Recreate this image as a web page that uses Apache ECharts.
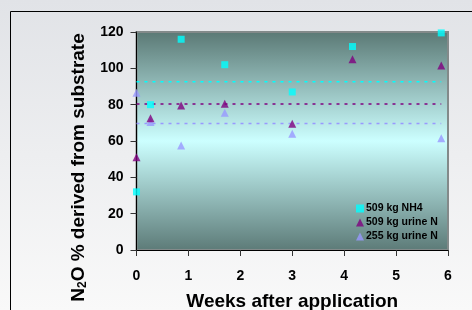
<!DOCTYPE html>
<html><head><meta charset="utf-8">
<script src="https://cdn.jsdelivr.net/npm/echarts@6/dist/echarts.min.js"></script>
<style>html,body{margin:0;padding:0;}#c{width:472px;height:310px;}</style>
</head><body><div id="c"></div>
<script>
// Data
var weeksNH4 = [0, 0.27, 0.86, 1.70, 3.00, 4.16, 5.87];
var nh4_509 = [32, 80, 116, 102, 87, 112, 119.5];
var weeksUrine509 = [0, 0.27, 0.86, 1.70, 3.00, 4.16, 5.87];
var urine_509 = [51, 72.5, 79.5, 80.5, 69.5, 105, 101.5];
var weeksUrine255 = [0, 0.27, 0.86, 1.70, 3.00, 5.87];
var urine_255 = [86.5, 70.5, 57.5, 75.5, 64, 61.5];
var meanSpan = [0, 5.87];
var meanNH4 = 92.6, meanU509 = 80.3, meanU255 = 69.6;
var seriesNames = ['509 kg NH4', '509 kg urine N', '255 kg urine N'];
var colors = ['#00ffff', '#800080', '#9999ff'];

function pairs(xs, ys){ return xs.map(function(x,i){ return [x, ys[i]]; }); }
function meanLine(v){ return meanSpan.map(function(x){ return [x, v]; }); }

var chart = echarts.init(document.getElementById('c'));
var font = 'Liberation Sans, Arial, sans-serif';
chart.setOption({
  animation: false,
  backgroundColor: new echarts.graphic.LinearGradient(0,0,0,1,[{offset:0,color:'#e1e3e7'},{offset:1,color:'#f9f9f9'}]),
  graphic: [
    {type:'rect', shape:{x:10.5, y:11.5, width:480, height:320}, style:{fill:null, stroke:'#000', lineWidth:1}, z:-1},
    {type:'text', x:79, y:167.5, rotation: Math.PI/2,
      style:{
        text:'{b|N}{s|2}{b|O % derived from substrate}',
        align:'center', verticalAlign:'middle',
        rich:{
          b:{fontSize:19, fontWeight:'bold', fontFamily:font, fill:'#000'},
          s:{fontSize:12, fontWeight:'bold', fontFamily:font, fill:'#000', padding:[8,0,0,0]}
        }
      }}
  ],
  grid: {left:136.5, right:24, top:32, bottom:60, show:true, containLabel:false, outerBoundsMode:'none',
    backgroundColor: new echarts.graphic.LinearGradient(0,0,0,1,[
      {offset:0,color:'#5a7874'},{offset:0.5,color:'#ccffff'},{offset:1,color:'#5c7a77'}]),
    borderColor:'#838a8a', borderWidth:2},
  legend: {
    orient:'vertical', left:356, top:203, padding:0, itemGap:3, itemWidth:8, itemHeight:8,
    data:[{name:seriesNames[0], icon:'rect'},{name:seriesNames[1], icon:'triangle'},{name:seriesNames[2], icon:'triangle'}],
    textStyle:{fontSize:10.5, fontWeight:'bold', fontFamily:font, color:'#000', padding:[0,0,0,-3]}
  },
  xAxis: {type:'value', min:0, max:6, interval:1,
    name:'Weeks after application', nameLocation:'middle', nameGap:42,
    nameTextStyle:{fontSize:19, fontWeight:'bold', fontFamily:font, color:'#000'},
    axisLine:{onZero:false, lineStyle:{color:'#000', width:1}},
    axisTick:{show:true, length:6, lineStyle:{color:'#333'}},
    axisLabel:{margin:19.5, fontSize:14, fontWeight:'bold', fontFamily:font, color:'#000'},
    splitLine:{show:false}},
  yAxis: {type:'value', min:0, max:120, interval:20,
    axisLine:{show:true, lineStyle:{color:'#000', width:1}},
    axisTick:{show:true, length:6, lineStyle:{color:'#333'}},
    axisLabel:{margin:13, fontSize:14, fontWeight:'bold', fontFamily:font, color:'#000'},
    splitLine:{show:false}},
  series: [
    {name:'mean1', type:'line', data:meanLine(meanNH4), showSymbol:false, silent:true,
      lineStyle:{color:colors[0], width:1.5, type:[3,5]}, z:1},
    {name:'mean2', type:'line', data:meanLine(meanU509), showSymbol:false, silent:true,
      lineStyle:{color:colors[1], width:1.5, type:[3,5]}, z:1},
    {name:'mean3', type:'line', data:meanLine(meanU255), showSymbol:false, silent:true,
      lineStyle:{color:colors[2], width:1.5, type:[3,5]}, z:1},
    {name:seriesNames[2], type:'scatter', data:pairs(weeksUrine255, urine_255), symbol:'triangle', symbolSize:[8,8],
      itemStyle:{color:colors[2]}, z:3},
    {name:seriesNames[1], type:'scatter', data:pairs(weeksUrine509, urine_509), symbol:'triangle', symbolSize:[8,8],
      itemStyle:{color:colors[1]}, z:4},
    {name:seriesNames[0], type:'scatter', data:pairs(weeksNH4, nh4_509), symbol:'rect', symbolSize:7,
      itemStyle:{color:colors[0]}, z:5}
  ]
});
</script>
</body></html>
